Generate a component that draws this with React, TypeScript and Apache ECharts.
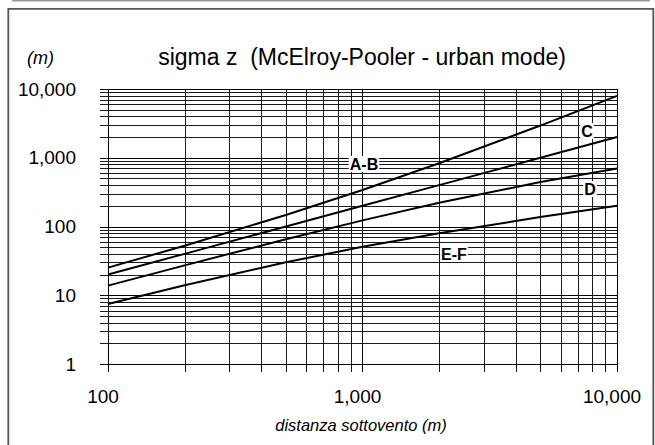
import React, { useEffect, useRef } from "react";
import * as echarts from "echarts";

// distances (m)
const distances = [100, 200, 500, 1000, 2000, 5000, 10000];
// sigma z (m) per stability class
const sigmaAB = [25.2, 52.6, 147, 339, 831, 2939, 7960];
const sigmaC = [20, 40, 100, 200, 400, 1000, 2000];
const sigmaD = [13.8, 27.2, 65.3, 122.8, 221, 443, 700];
const sigmaEF = [7.46, 14.0, 30.2, 50.6, 80, 137, 200];

const xGridValues = [
  100, 200, 300, 400, 500, 600, 700, 800, 900,
  1000, 2000, 3000, 4000, 5000, 6000, 7000, 8000, 9000, 10000,
];
const yGridValues = [
  1, 2, 3, 4, 5, 6, 7, 8, 9,
  10, 20, 30, 40, 50, 60, 70, 80, 90,
  100, 200, 300, 400, 500, 600, 700, 800, 900,
  1000, 2000, 3000, 4000, 5000, 6000, 7000, 8000, 9000, 10000,
];
const X_MIN = 100, X_MAX = 10000, Y_MIN = 1, Y_MAX = 10000;

const FONT = "'Liberation Sans', Arial, sans-serif";

function fmt(v: number): string {
  const s = String(Math.round(v));
  return s.replace(/\B(?=(\d{3})+(?!\d))/g, ",");
}

function isMajor(v: number) {
  const l = Math.log10(v);
  return Math.abs(l - Math.round(l)) < 1e-9;
}

export default function App() {
  const ref = useRef<HTMLDivElement>(null);
  useEffect(() => {
    if (!ref.current) return;
    const chart = echarts.init(ref.current, null, { renderer: "svg" });
    const pair = (ys: number[]) => distances.map((d, i) => [d, ys[i]]);
    const curve = (name: string, ys: number[]) => ({
      name,
      type: "line",
      data: pair(ys),
      symbol: "none",
      smooth: false,
      z: 5,
      lineStyle: { color: "#000", width: 2 },
      silent: true,
    });
    const label = (text: string, x: number, y: number) => ({
      type: "text",
      x,
      y,
      z: 100,
      style: {
        text,
        font: `bold 16px ${FONT}`,
        fill: "#000",
        align: "center",
        verticalAlign: "middle",
        backgroundColor: "#fff",
        padding: [0, 1],
      },
    });
    chart.setOption({
      animation: false,
      backgroundColor: "#fff",
      grid: { left: 108, right: 38, top: 89, bottom: 81, containLabel: false },
      xAxis: {
        type: "log",
        logBase: 10,
        min: X_MIN,
        max: X_MAX,
        axisLine: { show: false },
        axisTick: { show: false },
        splitLine: { show: false },
        minorTick: { show: false },
        axisLabel: {
          formatter: (v: number) => fmt(v),
          fontFamily: FONT,
          fontSize: 19,
          lineHeight: 19,
          color: "#000",
          margin: 23,
          padding: [0, 10, 0, 0],
        },
      },
      yAxis: {
        type: "log",
        logBase: 10,
        min: Y_MIN,
        max: Y_MAX,
        axisLine: { show: false },
        axisTick: { show: false },
        splitLine: { show: false },
        axisLabel: {
          formatter: (v: number) => fmt(v),
          fontFamily: FONT,
          fontSize: 19,
          color: "#000",
          margin: 32,
          padding: [0, 0, 3, 0],
        },
      },
      series: [
        {
          type: "custom",
          data: xGridValues.map((v) => [v, Y_MIN]),
          clip: false,
          silent: true,
          z: 1,
          renderItem: (params: any, api: any) => {
            const v = api.value(0);
            const p1 = api.coord([v, Y_MAX]);
            const p2 = api.coord([v, Y_MIN]);
            const x = Math.round(p1[0]) + 0.5;
            return {
              type: "line",
              shape: { x1: x, y1: Math.round(p1[1]), x2: x, y2: Math.round(p2[1]) + 8 },
              style: { stroke: isMajor(v) ? "#000" : "#1a1a1a", lineWidth: 1 },
            };
          },
        },
        {
          type: "custom",
          data: yGridValues.map((v) => [X_MIN, v]),
          clip: false,
          silent: true,
          z: 1,
          renderItem: (params: any, api: any) => {
            const v = api.value(1);
            const p1 = api.coord([X_MIN, v]);
            const p2 = api.coord([X_MAX, v]);
            const y = Math.round(p1[1]) + 0.5;
            return {
              type: "line",
              shape: { x1: Math.round(p1[0]) - 8, y1: y, x2: Math.round(p2[0]) + 1, y2: y },
              style: { stroke: isMajor(v) ? "#000" : "#1a1a1a", lineWidth: 1 },
            };
          },
        },
        curve("A-B", sigmaAB),
        curve("C", sigmaC),
        curve("D", sigmaD),
        curve("E-F", sigmaEF),
      ],
      graphic: [
        {
          type: "line",
          shape: { x1: 12, y1: 0.8, x2: 650, y2: 0.8 },
          style: { stroke: "#9a9a9a", lineWidth: 1.6 },
          silent: true,
        },
        {
          type: "rect",
          shape: { x: 8.3, y: 8.8, width: 645, height: 460 },
          style: { fill: "none", stroke: "#555", lineWidth: 1.8 },
          silent: true,
        },
        {
          type: "text",
          x: 362,
          y: 57,
          style: {
            text: "sigma z  (McElroy-Pooler - urban mode)",
            font: `23px ${FONT}`,
            fill: "#000",
            align: "center",
            verticalAlign: "middle",
          },
        },
        {
          type: "text",
          x: 40.5,
          y: 58,
          style: {
            text: "(m)",
            font: `italic 18px ${FONT}`,
            fill: "#000",
            align: "center",
            verticalAlign: "middle",
          },
        },
        {
          type: "text",
          x: 361,
          y: 425,
          style: {
            text: "distanza sottovento (m)",
            font: `italic 16.5px ${FONT}`,
            fill: "#000",
            align: "center",
            verticalAlign: "middle",
          },
        },
        label("A-B", 364, 164),
        label("C", 587, 131),
        label("D", 590, 189),
        label("E-F", 454, 254),
      ],
    });
    return () => chart.dispose();
  }, []);
  return (
    <div
      ref={ref}
      style={{ position: "absolute", left: 0, top: 0, width: 655, height: 445, background: "#fff" }}
    />
  );
}
